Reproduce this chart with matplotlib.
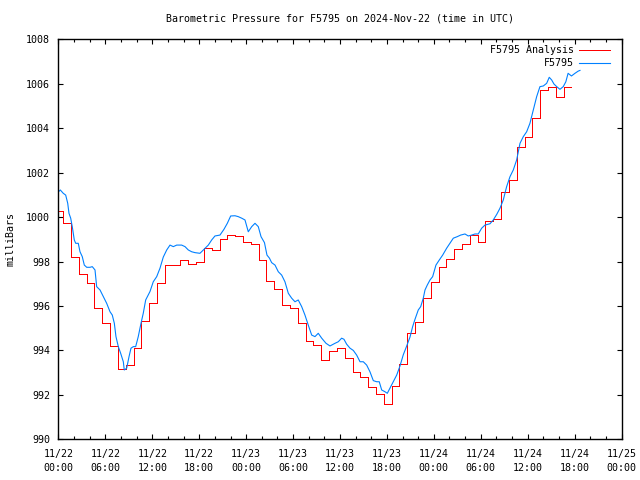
import numpy as np
import pandas as pd
import matplotlib
matplotlib.use('Agg')
import matplotlib.pyplot as plt
import matplotlib.dates as mdates

plt.rcParams['font.family'] = ['DejaVu Sans Mono']

# --- data (hours after 2024-11-22 00:00 UTC, mbar) ---
# analysis: one value per hour, valid from HH-0:24 to HH+0:36
ana_hours = np.arange(0, 66)
ana_mb = [1000.27, 999.72, 998.20, 997.43, 997.02, 995.91, 995.22, 994.20, 993.15, 993.33,
          994.10, 995.34, 996.12, 997.02, 997.83, 997.83, 998.06, 997.89, 997.98, 998.60,
          998.50, 999.00, 999.19, 999.15, 998.88, 998.78, 998.06, 997.14, 996.75, 996.03,
          995.91, 995.22, 994.41, 994.23, 993.57, 993.99, 994.10, 993.65, 993.02, 992.82,
          992.34, 992.03, 991.58, 992.40, 993.38, 994.80, 995.28, 996.35, 997.10, 997.74,
          998.10, 998.55, 998.80, 999.18, 998.89, 999.81, 999.90, 1001.12, 1001.67, 1003.17,
          1003.60, 1004.45, 1005.72, 1005.84, 1005.39, 1005.84]

# station observations
obs_hours = [0.0, 0.23, 0.61, 0.92, 1.18, 1.34, 1.56, 1.76, 2.02, 2.2, 2.53, 2.75, 3.04, 3.3,
             3.61, 4.03, 4.32, 4.67, 4.88, 5.31, 5.73, 6.16, 6.59, 6.88, 7.14, 7.35, 7.65,
             7.95, 8.29, 8.41, 8.72, 9.02, 9.27, 9.57, 9.87, 10.2, 10.55, 10.84, 11.15, 11.7,
             12.12, 12.56, 12.98, 13.4, 13.84, 14.26, 14.68, 15.12, 15.75, 16.18, 16.6, 17.03,
             17.46, 18.09, 18.52, 19.16, 19.59, 20.01, 20.65, 21.16, 21.59, 22.02, 22.57, 22.99,
             23.43, 23.85, 24.27, 24.71, 25.13, 25.55, 25.9, 26.34, 26.66, 26.98, 27.26, 27.69,
             28.11, 28.54, 28.96, 29.39, 29.82, 30.24, 30.66, 31.1, 31.52, 31.94, 32.38, 32.8,
             33.22, 33.66, 34.21, 34.72, 35.36, 35.78, 36.21, 36.51, 36.85, 37.28, 37.7, 38.13,
             38.56, 38.98, 39.41, 39.83, 40.26, 40.69, 41.02, 41.33, 41.75, 42.05, 42.39, 42.81,
             43.25, 43.67, 44.09, 44.53, 44.95, 45.29, 45.59, 46.01, 46.32, 46.65, 46.87, 47.16,
             47.51, 47.85, 48.27, 48.7, 49.13, 49.64, 50.06, 50.49, 51.0, 51.43, 51.98, 52.4,
             52.84, 53.26, 53.68, 54.12, 54.54, 55.18, 55.6, 56.04, 56.46, 56.88, 57.31, 57.74,
             58.16, 58.59, 59.02, 59.44, 59.87, 60.29, 60.72, 61.15, 61.57, 62.0, 62.43, 62.76,
             63.07, 63.36, 63.71, 64.13, 64.55, 64.88, 65.17, 65.6, 66.05, 66.47, 66.69]
obs_mb = [1001.14, 1001.22, 1001.07, 1000.99, 1000.62, 1000.17, 999.95, 999.57, 998.97, 998.82,
          998.82, 998.44, 998.22, 997.84, 997.74, 997.74, 997.77, 997.62, 996.87, 996.72, 996.42,
          996.12, 995.74, 995.59, 995.22, 994.62, 994.17, 993.87, 993.49, 993.12, 993.2, 993.72,
          994.1, 994.17, 994.17, 994.62, 995.22, 995.67, 996.27, 996.65, 997.09, 997.32, 997.7,
          998.2, 998.52, 998.74, 998.67, 998.74, 998.74, 998.67, 998.52, 998.44, 998.4, 998.37,
          998.52, 998.74, 998.97, 999.15, 999.19, 999.45, 999.72, 1000.05, 1000.06, 1000.02,
          999.95, 999.87, 999.34, 999.57, 999.72, 999.57, 999.12, 998.85, 998.29, 998.15, 997.95,
          997.84, 997.54, 997.39, 997.09, 996.57, 996.35, 996.19, 996.27, 995.97, 995.59, 995.14,
          994.69, 994.62, 994.77, 994.55, 994.32, 994.2, 994.32, 994.39, 994.55, 994.5, 994.28,
          994.1, 994.0, 993.79, 993.49, 993.49, 993.34, 993.04, 992.64, 992.59, 992.59, 992.22,
          992.14, 992.07, 992.3, 992.59, 992.89, 993.3, 993.8, 994.2, 994.6, 995.07, 995.4,
          995.82, 995.97, 996.35, 996.72, 996.94, 997.17, 997.32, 997.84, 998.07, 998.29, 998.6,
          998.82, 999.05, 999.12, 999.19, 999.24, 999.15, 999.19, 999.24, 999.24, 999.5, 999.64,
          999.7, 999.87, 1000.12, 1000.4, 1000.77, 1001.37, 1001.82, 1002.12, 1002.57, 1003.32,
          1003.62, 1003.84, 1004.22, 1004.82, 1005.42, 1005.87, 1005.9, 1006.02, 1006.29, 1006.17,
          1005.99, 1005.87, 1005.75, 1005.87, 1006.09, 1006.47, 1006.35, 1006.47, 1006.57, 1006.6]

start = pd.Timestamp('2024-11-22 00:00')

def to_time(h):
    return start + pd.to_timedelta(np.asarray(h, dtype=float), unit='h')

# analysis step edges: each hourly value holds from HH-0.4 to HH+0.6
ana_edges = np.append(ana_hours - 0.4, ana_hours[-1] + 0.6)
ana_vals = np.append(ana_mb, ana_mb[-1])

fig = plt.figure(figsize=(6.4, 4.8), dpi=100)
ax = fig.add_axes([0.0914, 0.0848, 0.8797, 0.8333])

ax.step(to_time(ana_edges), ana_vals, where='post', color='#ff0000', lw=0.72,
        antialiased=False, label='F5795 Analysis')
ax.plot(to_time(obs_hours), obs_mb, color='#0080ff', lw=0.8, label='F5795')

ax.set_xlim(start, start + pd.Timedelta(hours=72))
ax.set_ylim(990, 1008)
ax.set_yticks(np.arange(990, 1009, 2))

ax.xaxis.set_major_locator(mdates.HourLocator(byhour=[0, 6, 12, 18]))
ax.xaxis.set_minor_locator(mdates.HourLocator(interval=2))
ax.xaxis.set_major_formatter(mdates.DateFormatter('%m/%d\n%H:%M'))

ax.tick_params(which='both', direction='in', top=True, right=True, labelsize=7.2,
               width=0.8, color='black')
ax.tick_params(which='major', length=3.5)
ax.tick_params(which='minor', length=2)
ax.tick_params(axis='x', which='major', pad=7)
ax.tick_params(axis='y', which='major', pad=6)
for lab in ax.get_xticklabels():
    lab.set_linespacing(1.5)
for s in ax.spines.values():
    s.set_linewidth(1.0)

ax.set_ylabel('milliBars', fontsize=7.2, labelpad=8)
ax.set_title('Barometric Pressure for F5795 on 2024-Nov-22 (time in UTC)', fontsize=7.2, pad=13)

ax.legend(loc='upper right', bbox_to_anchor=(0.987, 0.995), frameon=False, fontsize=7.2,
          markerfirst=False, handlelength=3.1, labelspacing=0.3, borderaxespad=0.0,
          handletextpad=0.5)

fig.savefig('out.png', dpi=100)
